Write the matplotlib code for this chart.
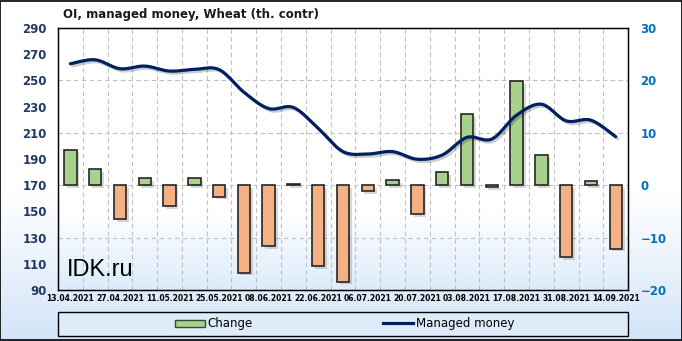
import numpy as np
import matplotlib
matplotlib.use('Agg')
import matplotlib.pyplot as plt
import matplotlib.patheffects as pe
from matplotlib.patches import Rectangle
from matplotlib.colors import LinearSegmentedColormap

# weekly dates
dates = ["13.04.2021", "20.04.2021", "27.04.2021", "04.05.2021", "11.05.2021",
         "18.05.2021", "25.05.2021", "01.06.2021", "08.06.2021", "15.06.2021",
         "22.06.2021", "29.06.2021", "06.07.2021", "13.07.2021", "20.07.2021",
         "27.07.2021", "03.08.2021", "10.08.2021", "17.08.2021", "24.08.2021",
         "31.08.2021", "07.09.2021", "14.09.2021"]

# managed money OI, th. contracts (left axis)
managed = [262.7, 265.7, 258.9, 260.9, 257.1, 258.4, 258.2, 241.0, 228.5, 229.3,
           213.3, 195.6, 193.8, 195.6, 189.8, 193.0, 206.5, 205.2, 223.4, 231.8,
           219.1, 219.6, 207.0]

# weekly change (right axis)
change = [6.8, 3.0, -6.5, 1.4, -4.0, 1.4, -2.2, -16.7, -11.6, 0.3,
          -15.5, -18.4, -1.1, 0.9, -5.5, 2.5, 13.5, -0.3, 19.9, 5.8,
          -13.8, 0.8, -12.1]

x = np.arange(len(dates))

fig = plt.figure(figsize=(6.82, 3.41), dpi=100)

# figure background gradient
bg = fig.add_axes([0, 0, 1, 1], zorder=-10)
grad = np.linspace(0, 1, 256).reshape(-1, 1)
cm_fig = LinearSegmentedColormap.from_list("figbg", [(0, "#d3e4f8"), (0.3, "#f2f7fd"), (0.45, "#ffffff"), (1, "#ffffff")])
bg.imshow(grad, aspect="auto", cmap=cm_fig, extent=[0, 1, 0, 1], origin="lower")
bg.set_axis_off()

ax = fig.add_axes([0.085, 0.1496, 0.836, 0.7684])
axl = ax.twinx()

cm_ax = LinearSegmentedColormap.from_list("axbg", [(0, "#dcebfa"), (0.3, "#ffffff"), (1, "#ffffff")])
ax.imshow(grad, aspect="auto", cmap=cm_ax, extent=[0, 1, 0, 1], origin="lower",
          transform=ax.transAxes, zorder=0)

# bars (right scale)
colors = ["#a9d18e" if v >= 0 else "#f4b183" for v in change]
ax.bar(x, change, width=0.5, color=colors, edgecolor="#262626", linewidth=1.2, zorder=3,
       path_effects=[pe.withSimplePatchShadow(offset=(2, -2), alpha=0.2)])
ax.set_xlim(-0.5, len(dates) - 0.5)
ax.set_ylim(-20, 30)
ax.set_yticks([-20, -10, 0, 10, 20, 30])
ax.yaxis.tick_right()
ax.yaxis.set_label_position("right")
ax.tick_params(axis="y", length=0, pad=9, labelsize=8.5, labelcolor="#0070c0")
for t in ax.get_yticklabels():
    t.set_fontweight("bold")

ax.set_xticks(x[::2])
ax.set_xticklabels(dates[::2], fontsize=5.5, fontweight="bold")
ax.tick_params(axis="x", length=0, pad=3)

# grid
ax.set_xticks(np.arange(0.5, len(dates) - 1, 1), minor=True)
ax.tick_params(axis="x", which="minor", length=0)
ax.grid(True, which="minor", axis="x", color="#c0c0c0", linestyle=(0, (4, 3)), linewidth=0.8, zorder=1)
ax.grid(True, which="major", axis="y", color="#c0c0c0", linestyle=(0, (4, 3)), linewidth=0.8, zorder=1)
for s in ax.spines.values():
    s.set_color("black")
    s.set_linewidth(1)

# smoothed line (left scale)
axl.yaxis.tick_left()
axl.yaxis.set_label_position("left")
axl.set_ylim(90, 290)
axl.set_yticks(np.arange(90, 291, 20))
axl.tick_params(axis="y", length=0, pad=8, labelsize=8.5, labelcolor="#1f3864")
for t in axl.get_yticklabels():
    t.set_fontweight("bold")
axl.patch.set_visible(False)

def catmull(px, py, n=20):
    px = np.asarray(px, float)
    py = np.asarray(py, float)
    P = np.column_stack([px, py])
    P = np.vstack([P[0], P, P[-1]])
    out = []
    for i in range(1, len(P) - 2):
        p0, p1, p2, p3 = P[i - 1], P[i], P[i + 1], P[i + 2]
        t = np.linspace(0, 1, n, endpoint=False)[:, None]
        seg = 0.5 * ((2 * p1) + (-p0 + p2) * t + (2 * p0 - 5 * p1 + 4 * p2 - p3) * t ** 2
                     + (-p0 + 3 * p1 - 3 * p2 + p3) * t ** 3)
        out.append(seg)
    out.append(P[-2][None, :])
    out = np.vstack(out)
    return out[:, 0], out[:, 1]

sx, sy = catmull(x, managed)
axl.plot(sx, sy, color="#002060", linewidth=2.3, solid_capstyle="round", zorder=5,
         path_effects=[pe.SimpleLineShadow(offset=(1.5, -1.5), alpha=0.2), pe.Normal()])

ax.text(0.016, 0.053, "IDK.ru", transform=ax.transAxes, fontsize=17,
        family="Liberation Sans", color="black", zorder=6)

fig.text(0.093, 0.958, "OI, managed money, Wheat (th. contr)", fontsize=8.5,
         fontweight="bold", va="center", ha="left", color="#1a1a1a")

# legend box
fig.patches.append(Rectangle((0.085, 0.0147), 0.836, 0.0703, transform=fig.transFigure,
                             facecolor="#deebf8", edgecolor="black", linewidth=1, zorder=1))
h1 = Rectangle((0, 0), 1, 1, facecolor="#a9d18e", edgecolor="#3a4a30", linewidth=1)
h2 = plt.Line2D([], [], color="#002060", linewidth=2.3)
leg = fig.legend([h1, h2], ["Change", "Managed money"], loc="center",
                 bbox_to_anchor=(0.505, 0.05), ncol=2, frameon=False, fontsize=8.5,
                 columnspacing=11, handlelength=2.6, handleheight=0.6, handletextpad=0.2)

fig.patches.append(Rectangle((0.0007, 0.0015), 0.9986, 0.997, transform=fig.transFigure,
                             facecolor="none", edgecolor="black", linewidth=1.2, zorder=10))

fig.savefig("out.png", dpi=100)
